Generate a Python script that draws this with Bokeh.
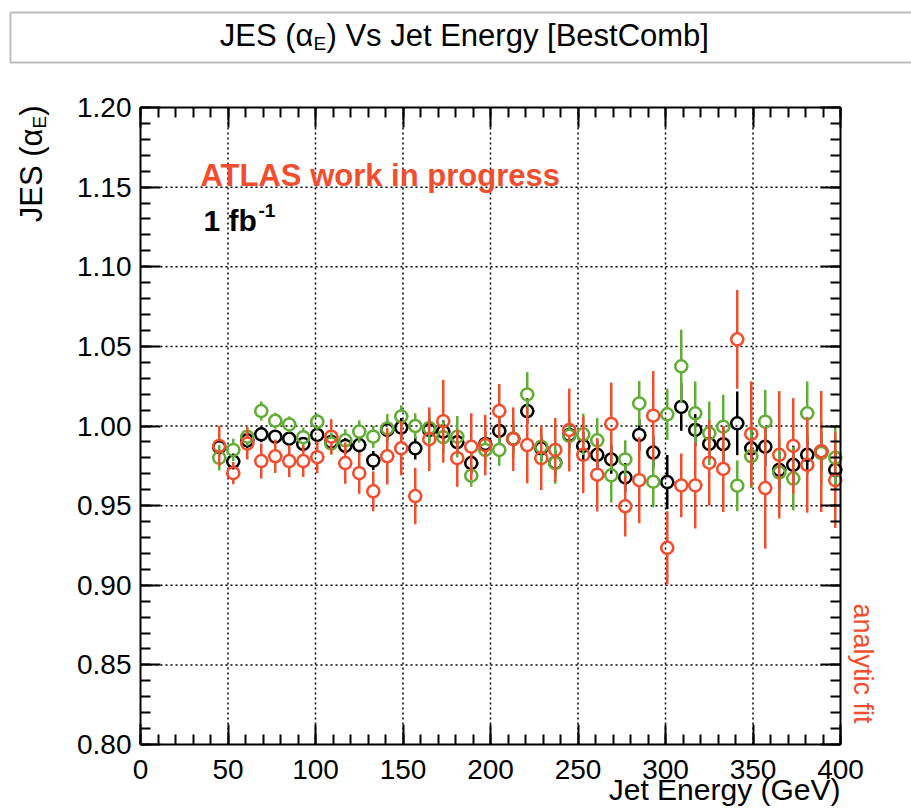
import numpy as np
from bokeh.plotting import figure
from bokeh.models import (Range1d, LinearAxis, SingleIntervalTicker, NumeralTickFormatter,
                          CustomJSTickFormatter, Label, BoxAnnotation)
from bokeh.embed import file_html
from bokeh.resources import INLINE

# ---------------- data ----------------
energy = [45, 53, 61, 69, 77, 85, 93, 101, 109, 117, 125, 133, 141, 149, 157, 165, 173, 181,
          189, 197, 205, 213, 221, 229, 237, 245, 253, 261, 269, 277, 285, 293, 301, 309,
          317, 325, 333, 341, 349, 357, 365, 373, 381, 389, 397]
bin_half = 4.0

black_y = [0.9867, 0.9777, 0.9910, 0.9948, 0.9933, 0.9920, 0.9887, 0.9944, 0.9900, 0.9875,
           0.9880, 0.9783, 0.9975, 0.9990, 0.9860, 0.9975, 0.9965, 0.9898, 0.9767, 0.9887,
           0.9969, 0.9920, 1.0094, 0.9860, 0.9770, 0.9944, 0.9875, 0.9819, 0.9790, 0.9677,
           0.9944, 0.9833, 0.9648, 1.0120, 0.9975, 0.9887, 0.9886, 1.0017, 0.9860, 0.9870,
           0.9725, 0.9756, 0.9819, 0.9840, 0.9725]
black_err = [0.005, 0.005, 0.005, 0.005, 0.004, 0.004, 0.004, 0.004, 0.005, 0.005,
             0.005, 0.006, 0.006, 0.006, 0.007, 0.007, 0.007, 0.007, 0.007, 0.008,
             0.008, 0.008, 0.008, 0.008, 0.008, 0.008, 0.009, 0.009, 0.009, 0.009,
             0.010, 0.010, 0.017, 0.015, 0.010, 0.010, 0.011, 0.020, 0.012, 0.012,
             0.012, 0.012, 0.012, 0.012, 0.012]

green_y = [0.9800, 0.9850, 0.9933, 1.0094, 1.0033, 1.0010, 0.9930, 1.0027, 0.9890, 0.9910,
           0.9965, 0.9933, 0.9985, 1.0060, 1.0000, 0.9988, 0.9930, 0.9933, 0.9688, 0.9850,
           0.9850, 0.9920, 1.0198, 0.9870, 0.9767, 0.9938, 0.9948, 0.9910, 0.9690, 0.9790,
           1.0142, 0.9650, 1.0073, 1.0375, 1.0080, 0.9954, 0.9996, 0.9625, 0.9810, 1.0027,
           0.9708, 0.9670, 1.0080, 0.9830, 0.9800]
green_err = [0.008, 0.007, 0.006, 0.006, 0.005, 0.005, 0.006, 0.005, 0.007, 0.007,
             0.007, 0.007, 0.009, 0.007, 0.008, 0.010, 0.010, 0.013, 0.007, 0.010,
             0.010, 0.012, 0.014, 0.012, 0.013, 0.011, 0.013, 0.014, 0.017, 0.012,
             0.014, 0.016, 0.016, 0.023, 0.020, 0.020, 0.020, 0.016, 0.020, 0.020,
             0.022, 0.020, 0.020, 0.020, 0.020]

red_y = [0.9875, 0.9704, 0.9890, 0.9780, 0.9810, 0.9780, 0.9780, 0.9804, 0.9933, 0.9767,
         0.9704, 0.9590, 0.9810, 0.9860, 0.9560, 0.9917, 1.0030, 0.9798, 0.9870, 0.9880,
         1.0094, 0.9917, 0.9880, 0.9798, 0.9850, 0.9975, 0.9819, 0.9694, 1.0013, 0.9496,
         0.9660, 1.0065, 0.9235, 0.9627, 0.9627, 0.9770, 0.9730, 1.0544, 0.9950, 0.9610,
         0.9819, 0.9875, 0.9756, 0.9840, 0.9660]
red_err = [0.0127, 0.007, 0.010, 0.011, 0.0105, 0.010, 0.010, 0.010, 0.011, 0.013,
           0.013, 0.0125, 0.0177, 0.017, 0.0177, 0.020, 0.026, 0.018, 0.021, 0.019,
           0.017, 0.020, 0.024, 0.020, 0.020, 0.026, 0.024, 0.023, 0.026, 0.019,
           0.027, 0.028, 0.023, 0.020, 0.027, 0.027, 0.027, 0.031, 0.033, 0.038,
           0.040, 0.030, 0.030, 0.038, 0.030]

x_lo, x_hi = 0, 400
y_lo, y_hi = 0.80, 1.20
x_grid_ticks = [50, 100, 150, 200, 250, 300, 350]
y_grid_ticks = [0.85, 0.90, 0.95, 1.00, 1.05, 1.10, 1.15]

# ---------------- page geometry ----------------
W, H = 911, 809
F_L, F_R, F_T, F_B = 140, 840, 107, 744          # where the plotting box sits on the page
PXX = (F_R - F_L) / (x_hi - x_lo)
PXY = (F_B - F_T) / (y_hi - y_lo)
xr0 = x_lo - F_L / PXX
xr1 = x_hi + (W - F_R) / PXX
yr0 = y_lo - (H - F_B) / PXY
yr1 = y_hi + F_T / PXY

def dx(cx):
    return xr0 + cx / PXX

def dy(cy):
    return yr1 - cy / PXY

FONT = "Liberation Sans"
RED = "#F04E2E"
GREEN = "#62AC38"
BLACK = "#000000"

p = figure(width=W, height=H, x_range=Range1d(xr0, xr1), y_range=Range1d(yr0, yr1),
           output_backend="svg", toolbar_location=None, min_border=0, title=None)
p.outline_line_color = None
p.xgrid.visible = False
p.ygrid.visible = False

xt = SingleIntervalTicker(interval=50, num_minor_ticks=5)
yt = SingleIntervalTicker(interval=0.05, num_minor_ticks=5)
eps_x = 0.01
eps_y = 0.00002

def style_axis(ax, ticker, bounds, loc, labels=True, fmt=None):
    ax.ticker = ticker
    ax.bounds = bounds
    ax.fixed_location = loc
    ax.axis_line_color = "black"
    ax.axis_line_width = 2
    ax.major_tick_in = 20
    ax.major_tick_out = 0
    ax.minor_tick_in = 10
    ax.minor_tick_out = 0
    ax.major_tick_line_width = 2
    ax.minor_tick_line_width = 2
    ax.major_tick_line_color = "black"
    ax.minor_tick_line_color = "black"
    ax.major_label_text_font = FONT
    ax.major_label_text_font_size = "28px"
    ax.major_label_text_color = "black"
    if not labels:
        ax.formatter = CustomJSTickFormatter(code="return ''")
    elif fmt is not None:
        ax.formatter = fmt

xb = (x_lo - eps_x, x_hi + eps_x)
yb = (y_lo - eps_y, y_hi + eps_y)
style_axis(p.xaxis[0], xt, xb, y_lo)
p.xaxis[0].major_label_standoff = 15
style_axis(p.yaxis[0], yt, yb, x_lo, fmt=NumeralTickFormatter(format="0.00"))
p.yaxis[0].major_label_standoff = 9

ax_r = LinearAxis()
style_axis(ax_r, yt, yb, x_hi, labels=False)
p.add_layout(ax_r, "right")
ax_t = LinearAxis()
style_axis(ax_t, xt, xb, y_hi, labels=False)
p.add_layout(ax_t, "above")

# dotted grid inside the box
p.segment(x0=x_grid_ticks, y0=[y_lo] * len(x_grid_ticks), x1=x_grid_ticks, y1=[y_hi] * len(x_grid_ticks),
          line_color="black", line_dash="2 3", line_width=1.5)
p.segment(x0=[x_lo] * len(y_grid_ticks), y0=y_grid_ticks, x1=[x_hi] * len(y_grid_ticks), y1=y_grid_ticks,
          line_color="black", line_dash="2 3", line_width=1.5)

# marker geometry
r_px = 6.0
gx = r_px / PXX
gy = r_px / PXY

def draw_series(ys, errs, color):
    x = np.array(energy, dtype=float)
    y = np.array(ys)
    e = np.array(errs)
    m = e > gy
    p.segment(x0=x[m], y0=(y - e)[m], x1=x[m], y1=(y - gy)[m], line_color=color, line_width=2.5)
    p.segment(x0=x[m], y0=(y + gy)[m], x1=x[m], y1=(y + e)[m], line_color=color, line_width=2.5)
    p.segment(x0=x - bin_half, y0=y, x1=x - gx, y1=y, line_color=color, line_width=2.5)
    p.segment(x0=x + gx, y0=y, x1=x + bin_half, y1=y, line_color=color, line_width=2.5)
    p.scatter(x=x, y=y, marker="circle", size=2 * r_px, fill_alpha=0,
              line_color=color, line_width=2.5)

draw_series(black_y, black_err, BLACK)
draw_series(green_y, green_err, GREEN)
draw_series(red_y, red_err, RED)

def label(cx, cy, text, size, color="black", align="left", bold=False, angle=0.0):
    p.add_layout(Label(x=dx(cx), y=dy(cy), text=text, angle=angle, text_align=align,
                       text_baseline="middle", text_font=FONT,
                       text_font_style="bold" if bold else "normal",
                       text_font_size=size, text_color=color))

# title box
p.add_layout(BoxAnnotation(left=dx(10), right=dx(940), top=dy(12), bottom=dy(62),
                           fill_alpha=0, line_color="#222222", line_width=2))
A = 313
label(A, 35, "JES (α", "31px", align="right")
label(A, 43, "E", "19px")
label(A + 13, 35, ") Vs Jet Energy [BestComb]", "31px")

# axis titles
label(840, 789, "Jet Energy (GeV)", "30px", align="right")
up = np.pi / 2
label(31, 105, ")", "31px", align="right", angle=up)
label(39, 115.3, "E", "19px", align="right", angle=up)
label(31, 128, "JES (α", "31px", align="right", angle=up)

# annotations
label(200, 175, "ATLAS work in progress", "31px", color=RED, bold=True)
label(203, 220, "1 fb", "30px", bold=True)
label(258, 210, "-1", "19px", bold=True)
label(862, 603, "analytic fit", "27px", color=RED, angle=-np.pi / 2)

open("out.html", "w").write(file_html(p, INLINE))
